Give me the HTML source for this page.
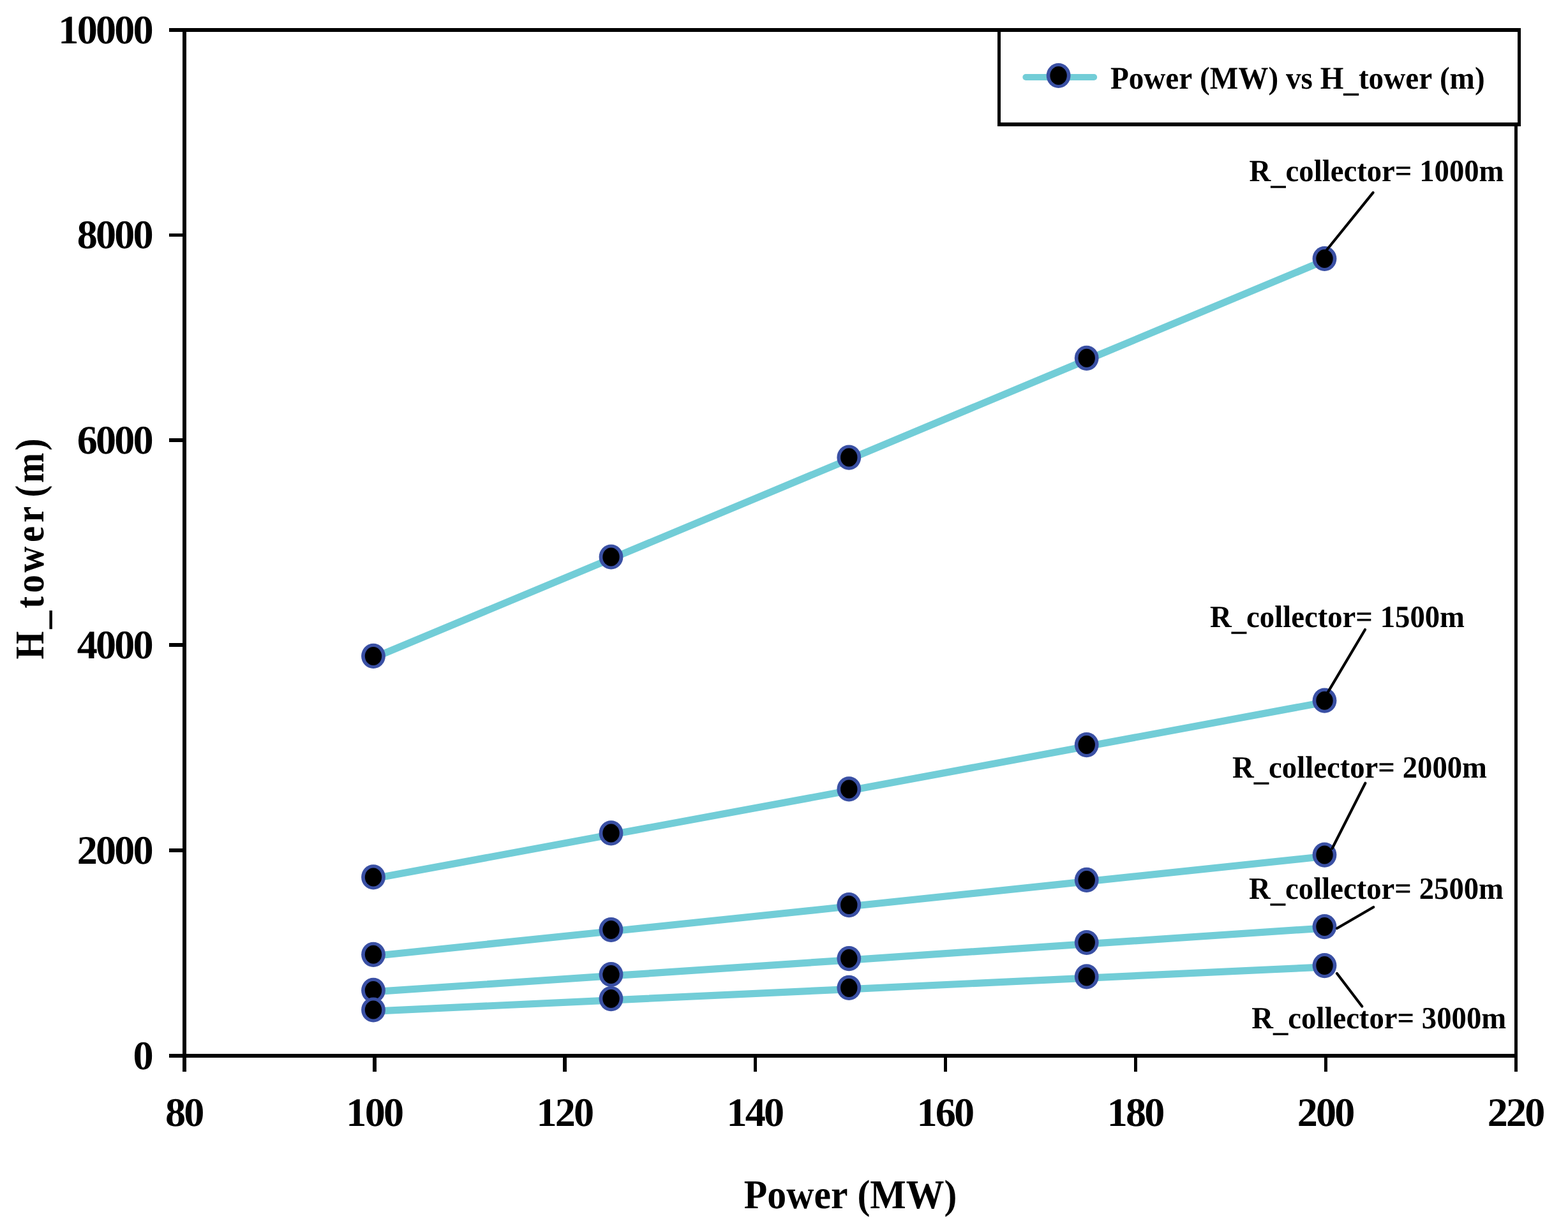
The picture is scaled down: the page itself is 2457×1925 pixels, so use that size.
<!DOCTYPE html>
<html lang="en"><head><meta charset="utf-8"><title>Power (MW) vs H_tower (m)</title>
<style>
html,body{margin:0;padding:0;background:#fff;}
body{width:2457px;height:1925px;overflow:hidden;}
svg{display:block;}
text{font-family:"Liberation Serif","Times New Roman",Times,serif;font-weight:bold;fill:#000;font-kerning:none;font-variant-ligatures:none;text-rendering:geometricPrecision;}
</style></head><body>
<svg width="2457" height="1925" viewBox="0 0 2457 1925" role="img" aria-label="Power (MW) vs H_tower (m)">
<rect x="0" y="0" width="2457" height="1925" fill="#ffffff"/>
<g fill="none" stroke="#72CDD7" stroke-width="11.20" stroke-linejoin="round" stroke-linecap="butt">
<polyline points="586.8,1030.6 959.3,875.2 1332.1,719.3 1704.5,563.5 2077.3,407.7"/>
<polyline points="586.8,1377.1 959.3,1308.1 1332.1,1239.1 1704.5,1169.8 2077.3,1100.4"/>
<polyline points="586.8,1498.5 959.3,1459.7 1332.1,1420.8 1704.5,1381.6 2077.3,1342.3"/>
<polyline points="586.8,1554.6 959.3,1529.7 1332.1,1504.8 1704.5,1479.7 2077.3,1454.8"/>
<polyline points="586.8,1585.2 959.3,1567.8 1332.1,1550.6 1704.5,1533.1 2077.3,1515.8"/>
</g>
<g>
<ellipse cx="585.0" cy="1028.4" rx="18.90" ry="19.60" fill="#3A50A4"/><ellipse cx="585.0" cy="1028.4" rx="13.20" ry="14.50" fill="#000"/>
<ellipse cx="957.5" cy="873.0" rx="18.90" ry="19.60" fill="#3A50A4"/><ellipse cx="957.5" cy="873.0" rx="13.20" ry="14.50" fill="#000"/>
<ellipse cx="1330.3" cy="717.1" rx="18.90" ry="19.60" fill="#3A50A4"/><ellipse cx="1330.3" cy="717.1" rx="13.20" ry="14.50" fill="#000"/>
<ellipse cx="1702.7" cy="561.3" rx="18.90" ry="19.60" fill="#3A50A4"/><ellipse cx="1702.7" cy="561.3" rx="13.20" ry="14.50" fill="#000"/>
<ellipse cx="2075.5" cy="405.5" rx="18.90" ry="19.60" fill="#3A50A4"/><ellipse cx="2075.5" cy="405.5" rx="13.20" ry="14.50" fill="#000"/>
<ellipse cx="585.0" cy="1374.9" rx="18.90" ry="19.60" fill="#3A50A4"/><ellipse cx="585.0" cy="1374.9" rx="13.20" ry="14.50" fill="#000"/>
<ellipse cx="957.5" cy="1305.9" rx="18.90" ry="19.60" fill="#3A50A4"/><ellipse cx="957.5" cy="1305.9" rx="13.20" ry="14.50" fill="#000"/>
<ellipse cx="1330.3" cy="1236.9" rx="18.90" ry="19.60" fill="#3A50A4"/><ellipse cx="1330.3" cy="1236.9" rx="13.20" ry="14.50" fill="#000"/>
<ellipse cx="1702.7" cy="1167.6" rx="18.90" ry="19.60" fill="#3A50A4"/><ellipse cx="1702.7" cy="1167.6" rx="13.20" ry="14.50" fill="#000"/>
<ellipse cx="2075.5" cy="1098.2" rx="18.90" ry="19.60" fill="#3A50A4"/><ellipse cx="2075.5" cy="1098.2" rx="13.20" ry="14.50" fill="#000"/>
<ellipse cx="585.0" cy="1496.3" rx="18.90" ry="19.60" fill="#3A50A4"/><ellipse cx="585.0" cy="1496.3" rx="13.20" ry="14.50" fill="#000"/>
<ellipse cx="957.5" cy="1457.5" rx="18.90" ry="19.60" fill="#3A50A4"/><ellipse cx="957.5" cy="1457.5" rx="13.20" ry="14.50" fill="#000"/>
<ellipse cx="1330.3" cy="1418.6" rx="18.90" ry="19.60" fill="#3A50A4"/><ellipse cx="1330.3" cy="1418.6" rx="13.20" ry="14.50" fill="#000"/>
<ellipse cx="1702.7" cy="1379.4" rx="18.90" ry="19.60" fill="#3A50A4"/><ellipse cx="1702.7" cy="1379.4" rx="13.20" ry="14.50" fill="#000"/>
<ellipse cx="2075.5" cy="1340.1" rx="18.90" ry="19.60" fill="#3A50A4"/><ellipse cx="2075.5" cy="1340.1" rx="13.20" ry="14.50" fill="#000"/>
<ellipse cx="585.0" cy="1552.4" rx="18.90" ry="19.60" fill="#3A50A4"/><ellipse cx="585.0" cy="1552.4" rx="13.20" ry="14.50" fill="#000"/>
<ellipse cx="957.5" cy="1527.5" rx="18.90" ry="19.60" fill="#3A50A4"/><ellipse cx="957.5" cy="1527.5" rx="13.20" ry="14.50" fill="#000"/>
<ellipse cx="1330.3" cy="1502.6" rx="18.90" ry="19.60" fill="#3A50A4"/><ellipse cx="1330.3" cy="1502.6" rx="13.20" ry="14.50" fill="#000"/>
<ellipse cx="1702.7" cy="1477.5" rx="18.90" ry="19.60" fill="#3A50A4"/><ellipse cx="1702.7" cy="1477.5" rx="13.20" ry="14.50" fill="#000"/>
<ellipse cx="2075.5" cy="1452.6" rx="18.90" ry="19.60" fill="#3A50A4"/><ellipse cx="2075.5" cy="1452.6" rx="13.20" ry="14.50" fill="#000"/>
<ellipse cx="585.0" cy="1583.0" rx="18.90" ry="19.60" fill="#3A50A4"/><ellipse cx="585.0" cy="1583.0" rx="13.20" ry="14.50" fill="#000"/>
<ellipse cx="957.5" cy="1565.6" rx="18.90" ry="19.60" fill="#3A50A4"/><ellipse cx="957.5" cy="1565.6" rx="13.20" ry="14.50" fill="#000"/>
<ellipse cx="1330.3" cy="1548.4" rx="18.90" ry="19.60" fill="#3A50A4"/><ellipse cx="1330.3" cy="1548.4" rx="13.20" ry="14.50" fill="#000"/>
<ellipse cx="1702.7" cy="1530.9" rx="18.90" ry="19.60" fill="#3A50A4"/><ellipse cx="1702.7" cy="1530.9" rx="13.20" ry="14.50" fill="#000"/>
<ellipse cx="2075.5" cy="1513.6" rx="18.90" ry="19.60" fill="#3A50A4"/><ellipse cx="2075.5" cy="1513.6" rx="13.20" ry="14.50" fill="#000"/>
</g>
<g fill="none" stroke="#000" stroke-width="4.2" stroke-linecap="round">
<line x1="2079.2" y1="391.5" x2="2151.6" y2="301.9"/>
<line x1="2080.6" y1="1085.4" x2="2139.0" y2="987.0"/>
<line x1="2087.6" y1="1329.8" x2="2139.3" y2="1227.7"/>
<line x1="2095.0" y1="1455.2" x2="2152.2" y2="1422.0"/>
<line x1="2095.0" y1="1526.0" x2="2134.2" y2="1577.6"/>
</g>
<rect x="1563.0" y="44.0" width="820.0" height="154.0" fill="#fff"/>
<g fill="#000" shape-rendering="crispEdges">
<rect x="265.0" y="44.0" width="2118.0" height="6.0"/>
<rect x="265.0" y="1652.0" width="2113.0" height="6.0"/>
<rect x="286.0" y="44.0" width="6.0" height="1636.0"/>
<rect x="2373.0" y="192.0" width="5.0" height="1488.0"/>
<rect x="265.0" y="366.0" width="24.0" height="5.0"/>
<rect x="265.0" y="687.0" width="24.0" height="6.0"/>
<rect x="265.0" y="1008.0" width="24.0" height="6.0"/>
<rect x="265.0" y="1330.0" width="24.0" height="6.0"/>
<rect x="584.0" y="1655.0" width="6.0" height="25.0"/>
<rect x="882.0" y="1655.0" width="6.0" height="25.0"/>
<rect x="1181.0" y="1655.0" width="5.0" height="25.0"/>
<rect x="1479.0" y="1655.0" width="5.0" height="25.0"/>
<rect x="1777.0" y="1655.0" width="5.0" height="25.0"/>
<rect x="2075.0" y="1655.0" width="5.0" height="25.0"/>
<rect x="1563.0" y="44.0" width="5.0" height="154.0"/>
<rect x="2378.0" y="44.0" width="5.0" height="154.0"/>
<rect x="1563.0" y="192.0" width="820.0" height="6.0"/>
</g>
<line x1="1607.4" y1="121.0" x2="1714.2" y2="121.0" stroke="#72CDD7" stroke-width="10" stroke-linecap="round"/>
<ellipse cx="1658.6" cy="118.5" rx="18.90" ry="19.60" fill="#3A50A4"/><ellipse cx="1658.6" cy="118.5" rx="13.20" ry="14.50" fill="#000"/>
<text transform="translate(1739.90,138.60) scale(0.9527,1)" font-size="49.50" text-anchor="start" dy="0 0 0 0 0 0 0 0 0 0 0 0 0 0 0 4.2 -4.2">Power (MW) vs H_tower (m)</text>
<text transform="translate(237.70,1676.00) scale(1.0125,1)" font-size="63.40" text-anchor="end" letter-spacing="-2.79">0</text>
<text transform="translate(237.70,1354.40) scale(1.0125,1)" font-size="63.40" text-anchor="end" letter-spacing="-2.79">2000</text>
<text transform="translate(237.70,1032.30) scale(1.0125,1)" font-size="63.40" text-anchor="end" letter-spacing="-2.79">4000</text>
<text transform="translate(237.70,711.20) scale(1.0125,1)" font-size="63.40" text-anchor="end" letter-spacing="-2.79">6000</text>
<text transform="translate(237.70,389.00) scale(1.0125,1)" font-size="63.40" text-anchor="end" letter-spacing="-2.79">8000</text>
<text transform="translate(237.70,68.00) scale(1.0125,1)" font-size="63.40" text-anchor="end" letter-spacing="-2.79">10000</text>
<text transform="translate(288.20,1765.20) scale(1.0125,1)" font-size="63.40" text-anchor="middle" letter-spacing="-2.79">80</text>
<text transform="translate(586.27,1765.20) scale(1.0125,1)" font-size="63.40" text-anchor="middle" letter-spacing="-2.79">100</text>
<text transform="translate(884.34,1765.20) scale(1.0125,1)" font-size="63.40" text-anchor="middle" letter-spacing="-2.79">120</text>
<text transform="translate(1182.41,1765.20) scale(1.0125,1)" font-size="63.40" text-anchor="middle" letter-spacing="-2.79">140</text>
<text transform="translate(1480.49,1765.20) scale(1.0125,1)" font-size="63.40" text-anchor="middle" letter-spacing="-2.79">160</text>
<text transform="translate(1778.56,1765.20) scale(1.0125,1)" font-size="63.40" text-anchor="middle" letter-spacing="-2.79">180</text>
<text transform="translate(2076.63,1765.20) scale(1.0125,1)" font-size="63.40" text-anchor="middle" letter-spacing="-2.79">200</text>
<text transform="translate(2374.70,1765.20) scale(1.0125,1)" font-size="63.40" text-anchor="middle" letter-spacing="-2.79">220</text>
<text transform="translate(1332.60,1893.60) scale(0.9340,1)" font-size="64.00" text-anchor="middle">Power (MW)</text>
<text transform="translate(68.30,858.60) rotate(-90) scale(0.8850,1)" font-size="64.00" text-anchor="middle" letter-spacing="4.1" dy="0 4.6 -4.6" dx="0 0 0 2 0 3.5 2.5 -8">H_tower (m)</text>
<text transform="translate(1957.50,284.20) scale(0.9635,1)" font-size="48.50" text-anchor="start" dy="0 4.2 -4.2">R_collector= 1000m</text>
<text transform="translate(1896.00,982.80) scale(0.9635,1)" font-size="48.50" text-anchor="start" dy="0 4.2 -4.2">R_collector= 1500m</text>
<text transform="translate(1931.00,1218.80) scale(0.9635,1)" font-size="48.50" text-anchor="start" dy="0 4.2 -4.2">R_collector= 2000m</text>
<text transform="translate(1957.00,1409.20) scale(0.9635,1)" font-size="48.50" text-anchor="start" dy="0 4.2 -4.2">R_collector= 2500m</text>
<text transform="translate(1961.20,1611.70) scale(0.9635,1)" font-size="48.50" text-anchor="start" dy="0 4.2 -4.2">R_collector= 3000m</text>
</svg>
</body></html>
